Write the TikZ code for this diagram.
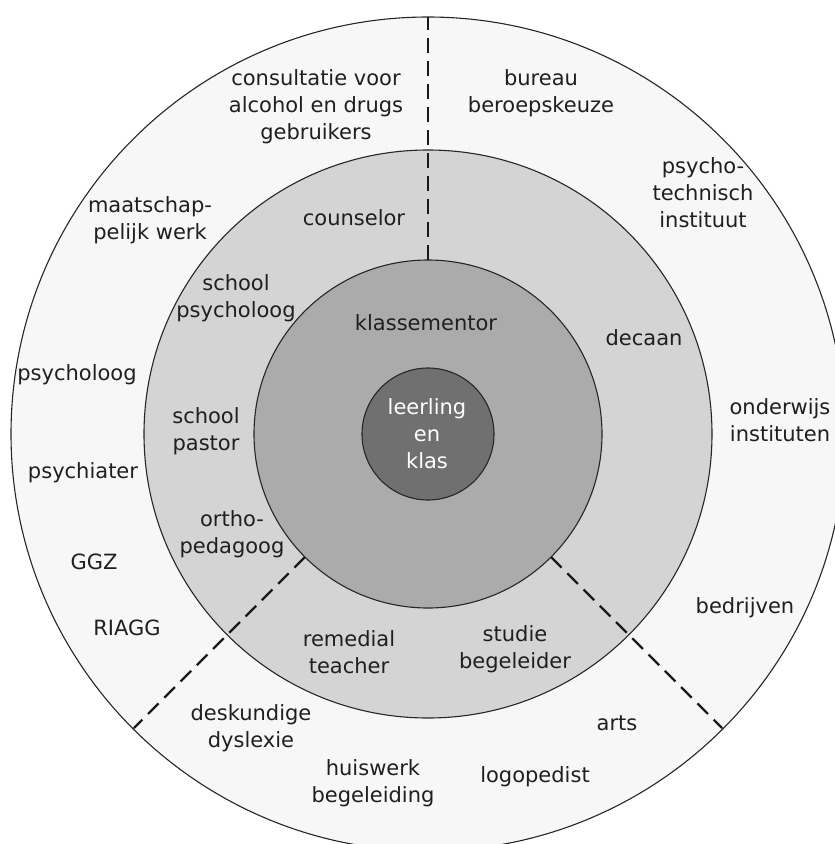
\documentclass[tikz,border=0pt]{standalone}
\usepackage{fontspec}
\setmainfont{DejaVu Sans}
\usetikzlibrary{calc}
\begin{document}
\begin{tikzpicture}[x=1pt,y=-1pt,
  lbl/.style={align=center,font=\fontsize{21}{27}\selectfont,text=black!88,inner sep=0pt},
  wlbl/.style={lbl,text=white},
  ring/.style={draw=black!85,line width=1.1pt},
  divider/.style={dash pattern=on 15pt off 8pt,line width=2.4pt,black!90}]
\useasboundingbox (0,0) rectangle (835,844);
\coordinate (c) at (428,434);
\begin{scope}
\clip (0,0) rectangle (835,844);
\draw[ring,fill=black!3] (c) circle [radius=417];
\draw[ring,fill=black!17] (c) circle [radius=284];
\draw[ring,fill=black!33] (c) circle [radius=174];
\draw[ring,fill=black!56] (c) circle [radius=66];
\end{scope}
\coordinate (t0) at ($(c)+(0,-174)$);
\coordinate (t1) at ($(c)+(0,-417)$);
\coordinate (l0) at ($(c)+(-123,123)$);
\coordinate (l1) at ($(c)+(-294,294)$);
\coordinate (r0) at ($(c)+(123,123)$);
\coordinate (r1) at ($(c)+(294,294)$);
\draw[divider] (t0) -- (t1);
\draw[divider] (l0) -- (l1);
\draw[divider] (r0) -- (r1);
% labels
\node[lbl] (consult) at (316,107) {consultatie voor\\alcohol en drugs\\gebruikers};
\node[lbl] (bureau) at (541,93) {bureau\\beroepskeuze};
\node[lbl] (psychotech) at (703,193) {psycho-\\technisch\\instituut};
\node[lbl] (maatschap) at (150,220) {maatschap-\\pelijk werk};
\node[lbl] (counselor) at (354,218) {counselor};
\node[lbl] (schoolpsy) at (236,298) {school\\psycholoog};
\node[lbl] (klassementor) at (426,323) {klassementor};
\node[lbl] (decaan) at (644,338) {decaan};
\node[lbl] (psycholoog) at (77,375) {psycholoog};
\node[lbl] (onderwijs) at (780,420) {onderwijs\\instituten};
\node[lbl] (pastor) at (206,431) {school\\pastor};
\node[wlbl] (leerling) at (427,434) {leerling\\en\\klas};
\node[lbl] (psychiater) at (83,473) {psychiater};
\node[lbl] (ortho) at (232,534) {ortho-\\pedagoog};
\node[lbl] (ggz) at (94,562) {GGZ};
\node[lbl] (riagg) at (127,628) {RIAGG};
\node[lbl] (bedrijven) at (745,608) {bedrijven};
\node[lbl] (remedial) at (349,652) {remedial\\teacher};
\node[lbl] (studie) at (515,649) {studie\\begeleider};
\node[lbl] (deskundige) at (251,728) {deskundige\\dyslexie};
\node[lbl] (arts) at (617,723) {arts};
\node[lbl] (huiswerk) at (373,783) {huiswerk\\begeleiding};
\node[lbl] (logopedist) at (535,777) {logopedist};
\end{tikzpicture}
\end{document}
